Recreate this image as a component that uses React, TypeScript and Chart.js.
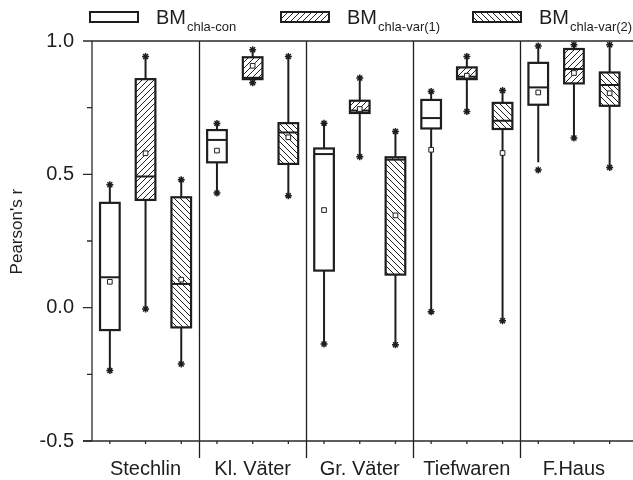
import React, { useEffect, useRef } from 'react';
import { Chart, registerables } from 'chart.js';

Chart.register(...registerables);

const categories = ['Stechlin', 'Kl. Väter', 'Gr. Väter', 'Tiefwaren', 'F.Haus'];
const seriesSubs = ['chla-con', 'chla-var(1)', 'chla-var(2)'];
const yTickValues = [-0.5, 0, 0.5, 1.0];
const yMinorValues = [-0.25, 0.25, 0.75];

// BM chla-con
const conStarHigh = [0.461, 0.691, 0.692, 0.811, 0.981];
const conWhiskerHigh = [0.461, 0.691, 0.692, 0.811, 0.981];
const conQ3 = [0.393, 0.666, 0.597, 0.779, 0.918];
const conMedian = [0.114, 0.629, 0.576, 0.711, 0.826];
const conQ1 = [-0.084, 0.545, 0.139, 0.672, 0.761];
const conWhiskerLow = [-0.236, 0.43, -0.136, -0.015, 0.545];
const conStarLow = [-0.236, 0.43, -0.136, -0.015, 0.516];
const conMean = [0.097, 0.589, 0.366, 0.592, 0.807];

// BM chla-var(1)
const var1StarHigh = [0.942, 0.967, 0.861, 0.942, 0.986];
const var1WhiskerHigh = [0.942, 0.967, 0.861, 0.942, 0.986];
const var1Q3 = [0.857, 0.939, 0.776, 0.901, 0.97];
const var1Median = [0.492, 0.862, 0.739, 0.866, 0.895];
const var1Q1 = [0.404, 0.857, 0.73, 0.857, 0.841];
const var1WhiskerLow = [-0.005, 0.843, 0.566, 0.736, 0.636];
const var1StarLow = [-0.005, 0.843, 0.566, 0.736, 0.636];
const var1Mean = [0.579, 0.907, 0.745, 0.87, 0.88];

// BM chla-var(2)
const var2StarHigh = [0.48, 0.942, 0.661, 0.814, 0.986];
const var2WhiskerHigh = [0.48, 0.942, 0.661, 0.814, 0.986];
const var2Q3 = [0.414, 0.692, 0.564, 0.768, 0.882];
const var2Median = [0.089, 0.657, 0.555, 0.701, 0.835];
const var2Q1 = [-0.074, 0.539, 0.124, 0.67, 0.757];
const var2WhiskerLow = [-0.211, 0.42, -0.139, -0.049, 0.526];
const var2StarLow = [-0.211, 0.42, -0.139, -0.049, 0.526];
const var2Mean = [0.105, 0.639, 0.346, 0.58, 0.804];

const series = [
  { sub: seriesSubs[0], hatch: 0, wHigh: conWhiskerHigh, q3: conQ3, med: conMedian, q1: conQ1, wLow: conWhiskerLow, sHigh: conStarHigh, sLow: conStarLow, mean: conMean },
  { sub: seriesSubs[1], hatch: 1, wHigh: var1WhiskerHigh, q3: var1Q3, med: var1Median, q1: var1Q1, wLow: var1WhiskerLow, sHigh: var1StarHigh, sLow: var1StarLow, mean: var1Mean },
  { sub: seriesSubs[2], hatch: -1, wHigh: var2WhiskerHigh, q3: var2Q3, med: var2Median, q1: var2Q1, wLow: var2WhiskerLow, sHigh: var2StarHigh, sLow: var2StarLow, mean: var2Mean },
];

const perGroup = series.length;
const xPos = (g: number, k: number) => g * perGroup + k + 0.5;
const BOX_W = 0.55;
const FONT = "'Liberation Sans', Arial, sans-serif";
const INK = '#1e1e1e';

function makeHatch(dir: number): CanvasPattern | string {
  if (dir === 0) return '#ffffff';
  const s = 6;
  const c = document.createElement('canvas');
  c.width = s;
  c.height = s;
  const x = c.getContext('2d')!;
  x.fillStyle = '#ffffff';
  x.fillRect(0, 0, s, s);
  x.strokeStyle = '#222';
  x.lineWidth = 1;
  x.beginPath();
  if (dir > 0) {
    x.moveTo(-1, s + 1); x.lineTo(s + 1, -1);
    x.moveTo(-1, 1); x.lineTo(1, -1);
    x.moveTo(s - 1, s + 1); x.lineTo(s + 1, s - 1);
  } else {
    x.moveTo(-1, -1); x.lineTo(s + 1, s + 1);
    x.moveTo(-1, s - 1); x.lineTo(1, s + 1);
    x.moveTo(s - 1, -1); x.lineTo(s + 1, 1);
  }
  x.stroke();
  const ctx = document.createElement('canvas').getContext('2d')!;
  return ctx.createPattern(c, 'repeat')!;
}

export default function App() {
  const ref = useRef<HTMLCanvasElement>(null);

  useEffect(() => {
    document.body.style.margin = '0';
    const canvas = ref.current!;
    const fills = series.map((s) => makeHatch(s.hatch));

    const datasets: any[] = [];
    series.forEach((s) => {
      datasets.push({
        label: s.sub + ' max',
        data: s.sHigh.map((v, g) => ({ x: xPos(g, series.indexOf(s)), y: v })),
        pointStyle: 'star', radius: 3.5, borderColor: INK, borderWidth: 1.5, backgroundColor: INK,
      });
      datasets.push({
        label: s.sub + ' min',
        data: s.sLow.map((v, g) => ({ x: xPos(g, series.indexOf(s)), y: v })),
        pointStyle: 'star', radius: 3.5, borderColor: INK, borderWidth: 1.5, backgroundColor: INK,
      });
      datasets.push({
        label: s.sub + ' mean',
        data: s.mean.map((v, g) => ({ x: xPos(g, series.indexOf(s)), y: v })),
        pointStyle: 'rect', radius: 3.3, borderColor: INK, borderWidth: 1, backgroundColor: '#ffffff',
      });
    });

    const boxPlugin = {
      id: 'boxes',
      beforeDatasetsDraw(chart: any) {
        const { ctx, chartArea: a, scales } = chart;
        const xs = scales.x, ys = scales.y;
        ctx.save();
        // separators between groups
        ctx.strokeStyle = INK;
        ctx.lineWidth = 1.3;
        for (let g = 1; g < categories.length; g++) {
          const px = Math.round(xs.getPixelForValue(g * perGroup)) + 0.5;
          ctx.beginPath();
          ctx.moveTo(px, a.top);
          ctx.lineTo(px, a.bottom + 17);
          ctx.stroke();
        }
        // whiskers and boxes
        series.forEach((s, k) => {
          categories.forEach((_, g) => {
            const xc = xs.getPixelForValue(xPos(g, k));
            const hw = (xs.getPixelForValue(BOX_W) - xs.getPixelForValue(0)) / 2;
            const yq3 = ys.getPixelForValue(s.q3[g]);
            const yq1 = ys.getPixelForValue(s.q1[g]);
            const ymed = ys.getPixelForValue(s.med[g]);
            ctx.strokeStyle = INK;
            ctx.lineWidth = 2;
            ctx.beginPath();
            ctx.moveTo(xc, ys.getPixelForValue(s.wHigh[g]));
            ctx.lineTo(xc, yq3);
            ctx.moveTo(xc, yq1);
            ctx.lineTo(xc, ys.getPixelForValue(s.wLow[g]));
            ctx.stroke();
            ctx.fillStyle = fills[k];
            ctx.fillRect(xc - hw, yq3, hw * 2, yq1 - yq3);
            ctx.lineWidth = 2.2;
            ctx.strokeRect(xc - hw, yq3, hw * 2, yq1 - yq3);
            ctx.lineWidth = 2;
            ctx.beginPath();
            ctx.moveTo(xc - hw, ymed);
            ctx.lineTo(xc + hw, ymed);
            ctx.stroke();
          });
        });
        // frame: left axis, top line, bottom axis
        ctx.strokeStyle = '#2a2a2a';
        ctx.lineWidth = 1.3;
        ctx.beginPath();
        ctx.moveTo(a.left, a.top);
        ctx.lineTo(a.left, a.bottom);
        ctx.moveTo(a.left, a.top);
        ctx.lineTo(chart.width, a.top);
        ctx.moveTo(a.left - 9, a.bottom);
        ctx.lineTo(chart.width, a.bottom);
        ctx.stroke();
        // y ticks
        ctx.beginPath();
        yTickValues.forEach((v) => {
          const py = ys.getPixelForValue(v);
          ctx.moveTo(a.left - 9, py);
          ctx.lineTo(a.left, py);
        });
        yMinorValues.forEach((v) => {
          const py = ys.getPixelForValue(v);
          ctx.moveTo(a.left - 5, py);
          ctx.lineTo(a.left, py);
        });
        // x minor ticks at box centres
        for (let g = 0; g < categories.length; g++) {
          for (let k = 0; k < perGroup; k++) {
            const px = xs.getPixelForValue(xPos(g, k));
            ctx.moveTo(px, a.bottom);
            ctx.lineTo(px, a.bottom + 3);
          }
        }
        ctx.stroke();
        // category labels
        ctx.fillStyle = INK;
        ctx.font = `20px ${FONT}`;
        ctx.textAlign = 'center';
        ctx.textBaseline = 'alphabetic';
        categories.forEach((c, g) => {
          const px = xs.getPixelForValue(g * perGroup + perGroup / 2);
          ctx.fillText(c, px, a.bottom + 34);
        });
        // y title
        ctx.save();
        ctx.translate(17.5, ys.getPixelForValue(0.285));
        ctx.rotate(-Math.PI / 2);
        ctx.font = `17px ${FONT}`;
        ctx.textAlign = 'center';
        ctx.textBaseline = 'middle';
        ctx.fillText("Pearson's r", 0, 0);
        ctx.restore();
        ctx.restore();
      },
      afterDraw(chart: any) {
        const { ctx } = chart;
        ctx.save();
        const boxX = [90, 281, 473];
        const boxW = 48, boxH = 10, boxY = 12;
        series.forEach((s, k) => {
          const bx = boxX[k];
          ctx.fillStyle = fills[k];
          ctx.fillRect(bx, boxY, boxW, boxH);
          ctx.strokeStyle = INK;
          ctx.lineWidth = 2;
          ctx.strokeRect(bx, boxY, boxW, boxH);
          ctx.fillStyle = INK;
          ctx.textAlign = 'left';
          ctx.textBaseline = 'alphabetic';
          ctx.font = `20px ${FONT}`;
          const tx = bx + boxW + 18;
          ctx.fillText('BM', tx, 23.5);
          const w = ctx.measureText('BM').width;
          ctx.font = `13px ${FONT}`;
          ctx.fillText(s.sub, tx + w + 1, 31);
        });
        ctx.restore();
      },
    };

    const chart = new Chart(canvas, {
      type: 'scatter',
      data: { datasets },
      options: {
        responsive: false,
        animation: false,
        devicePixelRatio: 1,
        layout: { padding: { top: 41, right: 1, bottom: 39, left: 0 } },
        plugins: { legend: { display: false }, tooltip: { enabled: false } },
        scales: {
          x: { type: 'linear', min: 0, max: categories.length * perGroup, display: false },
          y: {
            type: 'linear',
            min: -0.5,
            max: 1.0,
            position: 'left',
            afterFit: (s: any) => { s.width = 92; },
            grid: { display: false, drawTicks: false },
            border: { display: false },
            afterBuildTicks: (s: any) => { s.ticks = yTickValues.map((v) => ({ value: v })); },
            ticks: {
              padding: 18,
              color: INK,
              font: { family: FONT, size: 20 },
              callback: (v: any) => Number(v).toFixed(1),
            },
          },
        },
      },
      plugins: [boxPlugin],
    });
    return () => chart.destroy();
  }, []);

  return (
    <div style={{ position: 'fixed', left: 0, top: 0, width: 633, height: 480, background: '#fff' }}>
      <canvas ref={ref} width={633} height={480} />
    </div>
  );
}
